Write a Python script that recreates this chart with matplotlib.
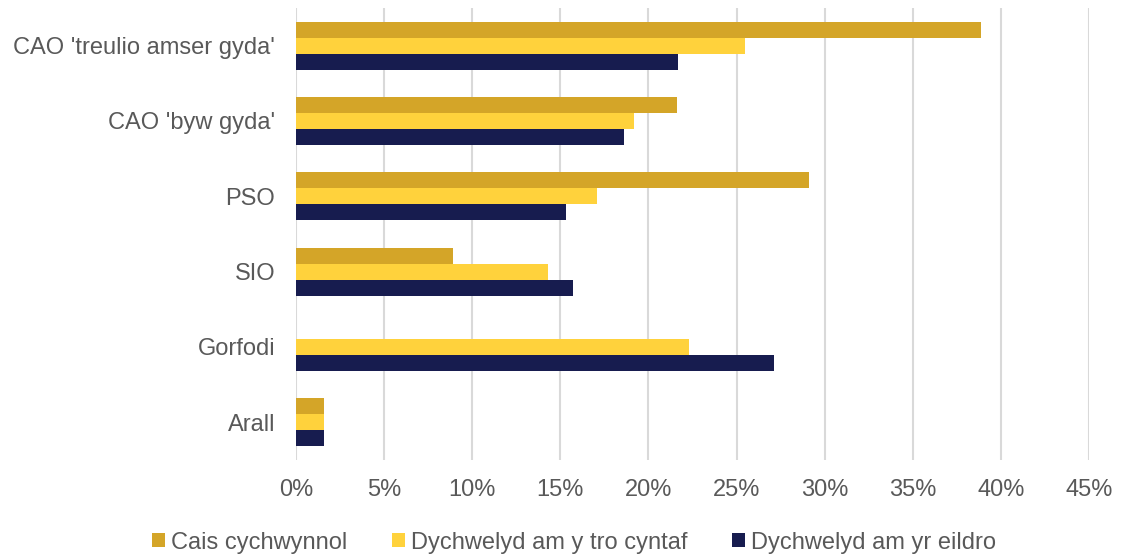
import matplotlib.pyplot as plt
import numpy as np

plt.rcParams['font.family'] = ['Liberation Sans', 'DejaVu Sans']

categories = ["CAO 'treulio amser gyda'", "CAO 'byw gyda'", "PSO", "SIO", "Gorfodi", "Arall"]
cais = [38.9, 21.6, 29.1, 8.9, 0.0, 1.6]
tro_cyntaf = [25.5, 19.2, 17.1, 14.3, 22.3, 1.6]
eildro = [21.7, 18.6, 15.3, 15.7, 27.1, 1.6]

series = [
    ("Cais cychwynnol", cais, "#D4A528"),
    ("Dychwelyd am y tro cyntaf", tro_cyntaf, "#FFD23C"),
    ("Dychwelyd am yr eildro", eildro, "#171C4F"),
]

fig = plt.figure(figsize=(11.23, 5.56), dpi=100)
ax = fig.add_axes([0.2636, 0.1727, 0.7061, 0.8129])

y = np.arange(len(categories))
h = 0.213
for i, (name, vals, col) in enumerate(series):
    ax.barh(y + (i - 1) * h, vals, height=h, color=col, label=name, zorder=3)

ax.set_ylim(len(categories) - 0.5, -0.5)
ax.set_xlim(0, 45)
ax.set_xticks(np.arange(0, 46, 5))
ax.set_xticklabels([f"{v}%" for v in range(0, 46, 5)])
ax.set_yticks(y)
ax.set_yticklabels(categories)
ax.tick_params(axis='both', length=0, labelsize=17, labelcolor='#595959')
ax.tick_params(axis='x', pad=14)
ax.tick_params(axis='y', pad=15)
ax.grid(axis='x', color='#D9D9D9', linewidth=1.5, zorder=0)
for s in ax.spines.values():
    s.set_visible(False)

leg = fig.legend(loc='lower center', bbox_to_anchor=(0.511, -0.034), ncol=3, frameon=False,
                 fontsize=17, handlelength=0.55, handleheight=0.55, handletextpad=0.25,
                 columnspacing=1.9)
for t in leg.get_texts():
    t.set_color('#595959')

fig.savefig('out.png', dpi=100)
